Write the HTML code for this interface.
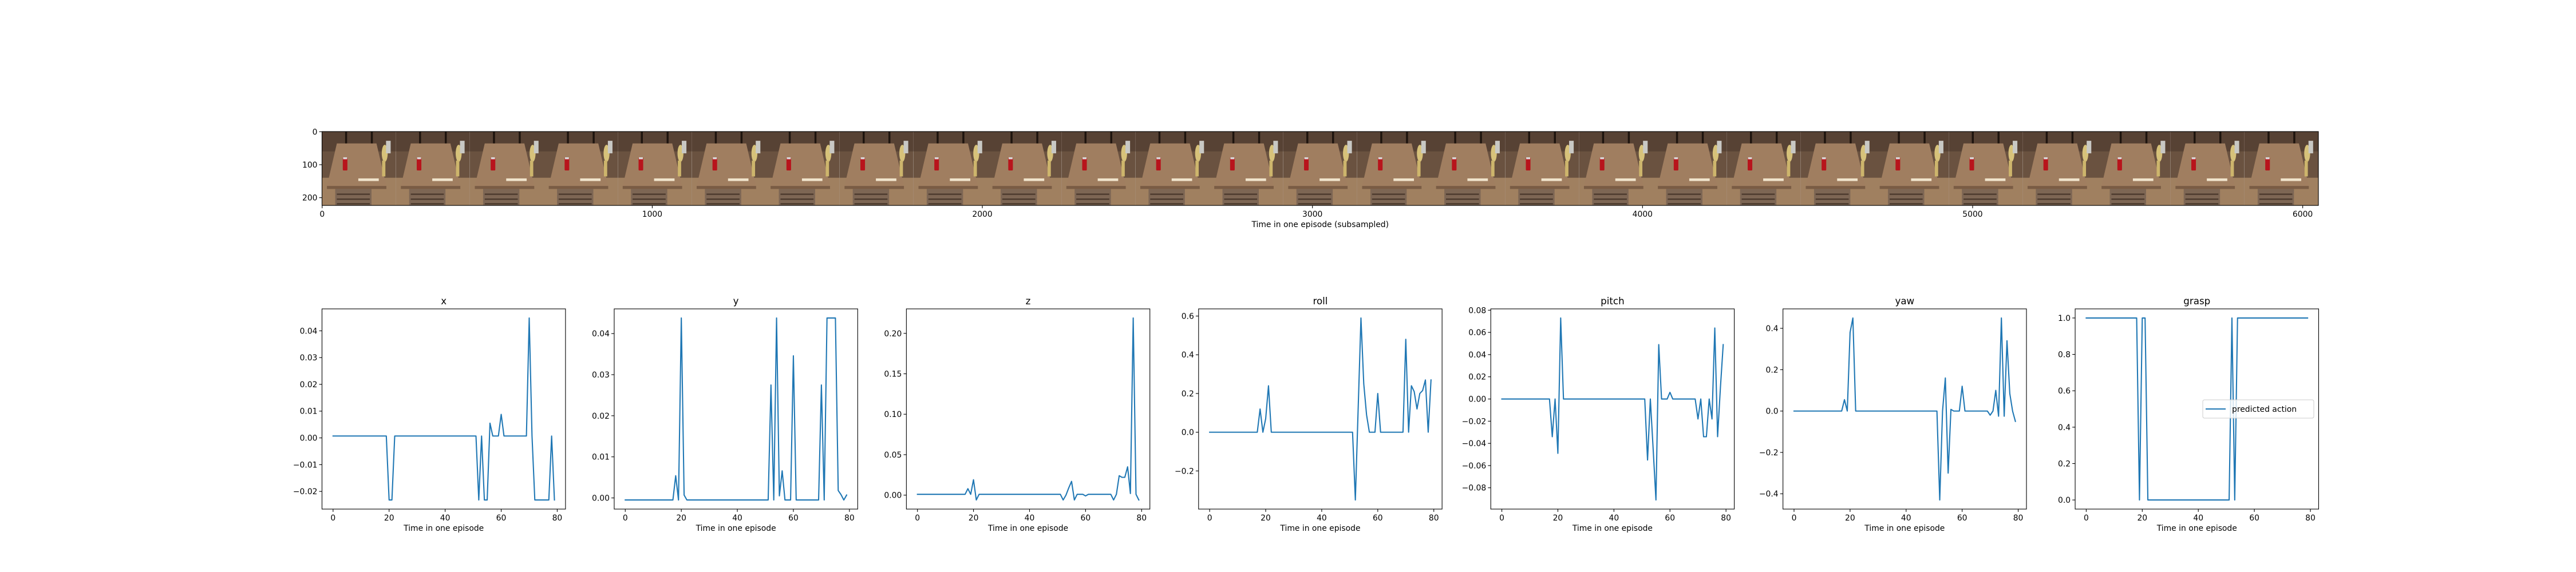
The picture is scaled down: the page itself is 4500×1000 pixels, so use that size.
<!DOCTYPE html>
<html><head><meta charset="utf-8">
<style>
html,body{margin:0;padding:0;background:#fff;}
svg{display:block;font-family:"DejaVu Sans","Liberation Sans",sans-serif;}
</style></head>
<body>
<svg id="fig" width="4500" height="1000" viewBox="0 0 4500 1000" xmlns="http://www.w3.org/2000/svg">
<defs>
<symbol id="frame" viewBox="0 0 224 224">
<rect width="224" height="224" fill="#6a5240"/>
<rect x="0" y="0" width="224" height="60" fill="#574234"/>
<rect x="70" y="0" width="6" height="60" fill="#1e140e"/>
<rect x="148" y="0" width="6" height="60" fill="#1e140e"/>
<rect x="0" y="140" width="224" height="84" fill="#a08060"/>
<polygon points="45,36 165,36 195,165 15,165" fill="#a07e60"/>
<polygon points="15,165 195,165 195,174 15,174" fill="#7a5c44"/>
<rect x="40" y="174" width="110" height="50" fill="#7d6654"/>
<rect x="45" y="188" width="100" height="4" fill="#4a382c"/>
<rect x="45" y="203" width="100" height="4" fill="#4a382c"/>
<rect x="45" y="217" width="100" height="4" fill="#4a382c"/>
<rect x="110" y="142" width="62" height="8" fill="#f0e4cc"/>
<rect x="63" y="78" width="14" height="40" rx="3" fill="#b8141c"/>
<rect x="64" y="78" width="12" height="6" fill="#d8d8d8"/>
<ellipse cx="190" cy="66" rx="9" ry="26" fill="#d7c27a"/>
<rect x="194" y="28" width="14" height="38" fill="#c8c8c4"/>
<rect x="182" y="88" width="10" height="48" fill="#cdb56c"/>
</symbol>
</defs>
<g id="imgAxes"></g>
<g id="panels"></g>
</svg>
<script>
// ---- data (80 timesteps each) ----
const steps = Array.from({length:80},(_,i)=>i);
const seriesX = [0.0007,0.0007,0.0007,0.0007,0.0007,0.0007,0.0007,0.0007,0.0007,0.0007,0.0007,0.0007,0.0007,0.0007,0.0007,0.0007,0.0007,0.0007,0.0007,0.0007,
-0.0232,-0.0232,0.0007,0.0007,0.0007,0.0007,0.0007,0.0007,0.0007,0.0007,0.0007,0.0007,0.0007,0.0007,0.0007,0.0007,0.0007,0.0007,0.0007,0.0007,
0.0007,0.0007,0.0007,0.0007,0.0007,0.0007,0.0007,0.0007,0.0007,0.0007,0.0007,0.0007,-0.0232,0.0007,-0.0232,-0.0232,0.0055,0.0007,0.0007,0.0007,
0.0088,0.0007,0.0007,0.0007,0.0007,0.0007,0.0007,0.0007,0.0007,0.0007,0.0448,0.0007,-0.0232,-0.0232,-0.0232,-0.0232,-0.0232,-0.0232,0.0007,-0.0232];
const seriesY = [-0.0005,-0.0005,-0.0005,-0.0005,-0.0005,-0.0005,-0.0005,-0.0005,-0.0005,-0.0005,-0.0005,-0.0005,-0.0005,-0.0005,-0.0005,-0.0005,-0.0005,-0.0005,0.0054,-0.0005,
0.0438,0.0007,-0.0005,-0.0005,-0.0005,-0.0005,-0.0005,-0.0005,-0.0005,-0.0005,-0.0005,-0.0005,-0.0005,-0.0005,-0.0005,-0.0005,-0.0005,-0.0005,-0.0005,-0.0005,
-0.0005,-0.0005,-0.0005,-0.0005,-0.0005,-0.0005,-0.0005,-0.0005,-0.0005,-0.0005,-0.0005,-0.0005,0.0275,-0.0005,0.0438,0.0005,0.0066,-0.0005,-0.0005,-0.0005,
0.0346,-0.0005,-0.0005,-0.0005,-0.0005,-0.0005,-0.0005,-0.0005,-0.0005,-0.0005,0.0275,-0.0005,0.0438,0.0438,0.0438,0.0438,0.0018,0.0008,-0.0005,0.0007];
const seriesZ = [0.001,0.001,0.001,0.001,0.001,0.001,0.001,0.001,0.001,0.001,0.001,0.001,0.001,0.001,0.001,0.001,0.001,0.001,0.008,0.001,
0.019,-0.006,0.001,0.001,0.001,0.001,0.001,0.001,0.001,0.001,0.001,0.001,0.001,0.001,0.001,0.001,0.001,0.001,0.001,0.001,
0.001,0.001,0.001,0.001,0.001,0.001,0.001,0.001,0.001,0.001,0.001,0.001,-0.006,0.0,0.009,0.017,-0.006,0.001,0.001,0.001,
-0.001,0.001,0.001,0.001,0.001,0.001,0.001,0.001,0.001,0.001,-0.006,0.001,0.024,0.022,0.022,0.035,0.002,0.219,0.001,-0.006];
const seriesRoll = [0,0,0,0,0,0,0,0,0,0,0,0,0,0,0,0,0,0,0.12,0,
0.07,0.24,0,0,0,0,0,0,0,0,0,0,0,0,0,0,0,0,0,0,
0,0,0,0,0,0,0,0,0,0,0,0,-0.35,0.12,0.59,0.25,0.09,0,0,0,
0.2,0,0,0,0,0,0,0,0,0,0.48,0,0.24,0.21,0.12,0.2,0.215,0.27,0,0.27];
const seriesPitch = [0,0,0,0,0,0,0,0,0,0,0,0,0,0,0,0,0,0,-0.034,0,
-0.049,0.073,0,0,0,0,0,0,0,0,0,0,0,0,0,0,0,0,0,0,
0,0,0,0,0,0,0,0,0,0,0,0,-0.055,0,-0.045,-0.091,0.049,0,0,0,
0.006,0,0,0,0,0,0,0,0,0,-0.018,0,-0.034,-0.034,0,-0.018,0.064,-0.034,0.01,0.049];
const seriesYaw = [0,0,0,0,0,0,0,0,0,0,0,0,0,0,0,0,0,0,0.055,0,
0.38,0.45,0,0,0,0,0,0,0,0,0,0,0,0,0,0,0,0,0,0,
0,0,0,0,0,0,0,0,0,0,0,0,-0.43,0,0.16,-0.3,0.008,0,0,0,
0.12,0,0,0,0,0,0,0,0,0,-0.02,0,0.1,-0.025,0.45,-0.025,0.34,0.085,0,-0.05];
const seriesGrasp = [1,1,1,1,1,1,1,1,1,1,1,1,1,1,1,1,1,1,1,0,
1,1,0,0,0,0,0,0,0,0,0,0,0,0,0,0,0,0,0,0,
0,0,0,0,0,0,0,0,0,0,0,0,1,0,1,1,1,1,1,1,
1,1,1,1,1,1,1,1,1,1,1,1,1,1,1,1,1,1,1,1];
const panelTitles = ["x","y","z","roll","pitch","yaw","grasp"];
const xTicks = [0,20,40,60,80];
const yTicksX = [-0.02,-0.01,0,0.01,0.02,0.03,0.04];
const yTicksY = [0,0.01,0.02,0.03,0.04];
const yTicksZ = [0,0.05,0.10,0.15,0.20];
const yTicksRoll = [-0.2,0,0.2,0.4,0.6];
const yTicksPitch = [-0.08,-0.06,-0.04,-0.02,0,0.02,0.04,0.06,0.08];
const yTicksYaw = [-0.4,-0.2,0,0.2,0.4];
const yTicksGrasp = [0,0.2,0.4,0.6,0.8,1.0];
const imgTicksX = [0,1000,2000,3000,4000,5000,6000];
const imgTicksY = [0,100,200];
const frameCount = 27;

const NS="http://www.w3.org/2000/svg";
function mk(tag,attrs,parent){const e=document.createElementNS(NS,tag);for(const k in attrs)e.setAttribute(k,attrs[k]);parent.appendChild(e);return e;}
function fmt(v,d){const s=Math.abs(v).toFixed(d);return (v<-1e-12?"\u2212":"")+s;}

// ---- image strip ----
const ig=document.getElementById('imgAxes');
const IL=562.5, IR=4050, IT=230, IXmax=6048;
const ix=v=>IL+(v+0.5)*(IR-IL)/IXmax;
const iy=v=>IT+(v+0.5)*(IR-IL)/IXmax;
for(let f=0;f<frameCount;f++){
  const u=mk('use',{href:'#frame',x:ix(f*224-0.5),y:IT,width:(IR-IL)/IXmax*224,height:(IR-IL)/IXmax*224},ig);
  
  
}
const IB=iy(223.5);
const ibox=mk('rect',{x:IL,y:IT,width:IR-IL,height:IB-IT,fill:'none',stroke:'#000','stroke-width':1.1},ig);


imgTicksX.forEach(t=>{
  const x=ix(t);
  mk('line',{x1:x,x2:x,y1:IB,y2:IB+4.9,stroke:'#000','stroke-width':1.1},ig);
  const tx=mk('text',{x:x,y:IB+20,'font-size':13.9,'text-anchor':'middle'},ig);
  tx.textContent=t;
  
  
});
imgTicksY.forEach(t=>{
  const y=iy(t);
  mk('line',{x1:IL,x2:IL-4.9,y1:y,y2:y,stroke:'#000','stroke-width':1.1},ig);
  const tx=mk('text',{x:IL-8,y:y+5,'font-size':13.9,'text-anchor':'end'},ig);
  tx.textContent=t;
  
  
});
const ixl=mk('text',{x:(IL+IR)/2,y:IB+38,'font-size':13.9,'text-anchor':'middle'},ig);
ixl.textContent='Time in one episode (subsampled)';



// ---- panels ----
const allSeries=[seriesX,seriesY,seriesZ,seriesRoll,seriesPitch,seriesYaw,seriesGrasp];
const allTicks=[yTicksX,yTicksY,yTicksZ,yTicksRoll,yTicksPitch,yTicksYaw,yTicksGrasp];
const decs=[2,2,2,1,2,1,1];
const pg=document.getElementById('panels');
const PW=425.36, PStep=510.43, PT=540, PB=890;
allSeries.forEach((s,i)=>{
  const g=mk('g',{},pg);
  
  
  const L=562.5+i*PStep, R=L+PW;
  let mn=Math.min(...s), mx=Math.max(...s);
  const pad=(mx-mn)*0.05; const y0=mn-pad, y1=mx+pad;
  const sx=v=>L+(v+3.95)/(86.9)*PW;
  const sy=v=>PB-(v-y0)/(y1-y0)*(PB-PT);
  const pts=s.map((v,k)=>sx(steps[k]).toFixed(2)+','+sy(v).toFixed(2)).join(' ');
  const pl=mk('polyline',{points:pts,fill:'none',stroke:'#1f77b4','stroke-width':2.08,'stroke-linejoin':'round','stroke-linecap':'square'},g);
  
  
  const fr=mk('rect',{x:L,y:PT,width:PW,height:PB-PT,fill:'none',stroke:'#000','stroke-width':1.1},g);
  
  
  xTicks.forEach(t=>{
    const x=sx(t);
    mk('line',{x1:x,x2:x,y1:PB,y2:PB+4.9,stroke:'#000','stroke-width':1.1},g);
    const tx=mk('text',{x:x,y:PB+20,'font-size':13.9,'text-anchor':'middle'},g);
    tx.textContent=t;
    
    
  });
  allTicks[i].forEach(t=>{
    const y=sy(t);
    mk('line',{x1:L,x2:L-4.9,y1:y,y2:y,stroke:'#000','stroke-width':1.1},g);
    const tx=mk('text',{x:L-8,y:y+5,'font-size':13.9,'text-anchor':'end'},g);
    tx.textContent=fmt(t,decs[i]);
    
    
  });
  const xl=mk('text',{x:(L+R)/2,y:PB+38,'font-size':13.9,'text-anchor':'middle'},g);
  xl.textContent='Time in one episode';
  
  
  const tt=mk('text',{x:(L+R)/2,y:PT-8,'font-size':16.7,'text-anchor':'middle'},g);
  tt.textContent=panelTitles[i];
  
  
  if(i===6){
    const lg=mk('g',{},g);
    
    
    mk('rect',{x:3848,y:699,width:194,height:32,rx:3,fill:'#fff','fill-opacity':0.8,stroke:'#ccc','stroke-width':1},lg);
    const ll=mk('line',{x1:3853,x2:3888,y1:715,y2:715,stroke:'#1f77b4','stroke-width':2.08},lg);
    
    
    const lt=mk('text',{x:3899,y:720,'font-size':13.9},lg);
    lt.textContent='predicted action';
    
    
  }
});
</script>
</body></html>
